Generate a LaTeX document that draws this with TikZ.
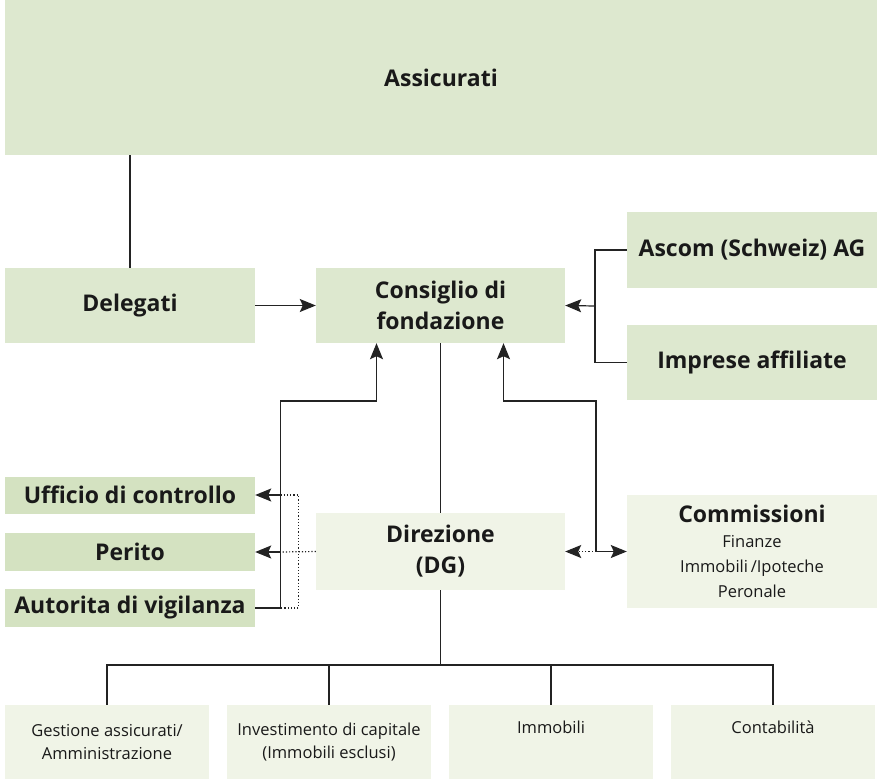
\documentclass[tikz,border=0pt]{standalone}
\usepackage{fontspec}
\setmainfont{Open Sans}
\usetikzlibrary{arrows.meta}
\definecolor{gdark}{RGB}{221,232,207}
\definecolor{gmid}{RGB}{212,226,193}
\definecolor{glight}{RGB}{240,244,231}
\definecolor{lnc}{RGB}{35,35,35}
\begin{document}
\begin{tikzpicture}[x=1pt,y=-1pt,
  box/.style={fill=#1,draw=none,inner sep=0pt,align=center,text=black!90},
  big/.style={font=\fontsize{23}{31}\selectfont\bfseries},
  small/.style={font=\fontsize{16.5}{23}\selectfont},
  ln/.style={draw=lnc,line width=1.2pt},
  tip/.tip={Stealth[length=16pt,width=13pt,inset=3pt]},
  arr/.style={ln,-tip},
  dot/.style={draw=lnc,line width=1.2pt,dotted}]
\useasboundingbox (0,0) rectangle (877,779);
% boxes
\node[box=gdark,big,minimum width=872pt,minimum height=155pt] (assic) at (441,77.5) {Assicurati};
\node[box=gdark,big,minimum width=250pt,minimum height=75pt] (deleg) at (130,305.5) {Delegati};
\node[box=gdark,big,minimum width=249pt,minimum height=75pt] (cons) at (440.5,305.5) {Consiglio di\\fondazione};
\node[box=gdark,big,minimum width=250pt,minimum height=76pt] (ascom) at (752,250) {Ascom (Schweiz) AG};
\node[box=gdark,big,minimum width=250pt,minimum height=75pt] (impr) at (752,362.5) {Imprese affiliate};
\node[box=glight,big,minimum width=249pt,minimum height=77pt] (dir) at (440.5,551.5) {Direzione\\(DG)};
\node[box=glight,font=\fontsize{16.5}{25}\selectfont,minimum width=250pt,minimum height=113pt] (comm) at (752,551.5) {{\fontsize{23}{25}\selectfont\bfseries Commissioni}\\Finanze\\Immobili\,/Ipoteche\\Peronale};
\node[box=gmid,big,minimum width=250pt,minimum height=37pt] (uff) at (130,495) {Ufficio di controllo};
\node[box=gmid,big,minimum width=250pt,minimum height=38pt] (per) at (130,552) {Perito};
\node[box=gmid,big,minimum width=250pt,minimum height=38pt] (aut) at (130,608) {Autorita di vigilanza};
\node[box=glight,small,minimum width=204pt,minimum height=74pt] (b1) at (107,742) {Gestione assicurati/\\Amministrazione};
\node[box=glight,small,minimum width=204pt,minimum height=74pt] (b2) at (329,742) {Investimento di capitale\\(Immobili esclusi)};
\node[box=glight,small,minimum width=204pt,minimum height=74pt] (b3) at (551,742) {Immobili\\\strut};
\node[box=glight,small,minimum width=204pt,minimum height=74pt] (b4) at (773,742) {Contabilità\\\strut};
% connectors
\draw[ln] (deleg.north) -- (deleg.north |- assic.south);
\draw[arr] (deleg.east) -- (cons.west);
\coordinate (jr) at (595,306);
\draw[ln] (ascom.west) -| (jr) |- (impr.west);
\draw[arr] (jr) -- (cons.east);
\draw[ln] (cons.south) -- (dir.north);
% left
\coordinate (lv) at (280.5,401);
\coordinate (dv) at (298.5,0);
\draw[ln,tip-] ([xshift=-64pt]cons.south) |- (lv) -- (lv |- aut.east) -- (aut.east);
\draw[arr] (lv |- uff.east) -- (uff.east);
\draw[arr] (lv |- per.east) -- (per.east);
\draw[dot] (dir.west) -- (lv |- per.east);
\draw[dot] (lv |- uff.east) -- (dv |- uff.east) -- (dv |- aut.east) -- (lv |- aut.east);
% right
\coordinate (rv) at (596,401);
\draw[ln,tip-] ([xshift=63pt]cons.south) |- (rv) -- (rv |- comm.west);
\draw[arr] (rv |- comm.west) -- (comm.west);
\draw[dot,-tip] (rv |- comm.west) -- (dir.east);
% bottom
\coordinate (bus) at (0,665);
\draw[ln] (dir.south) -- (dir.south |- bus);
\draw[ln] (b1.north) -- (b1.north |- bus) -- (b4.north |- bus) -- (b4.north);
\draw[ln] (b2.north) -- (b2.north |- bus);
\draw[ln] (b3.north) -- (b3.north |- bus);
\end{tikzpicture}
\end{document}
